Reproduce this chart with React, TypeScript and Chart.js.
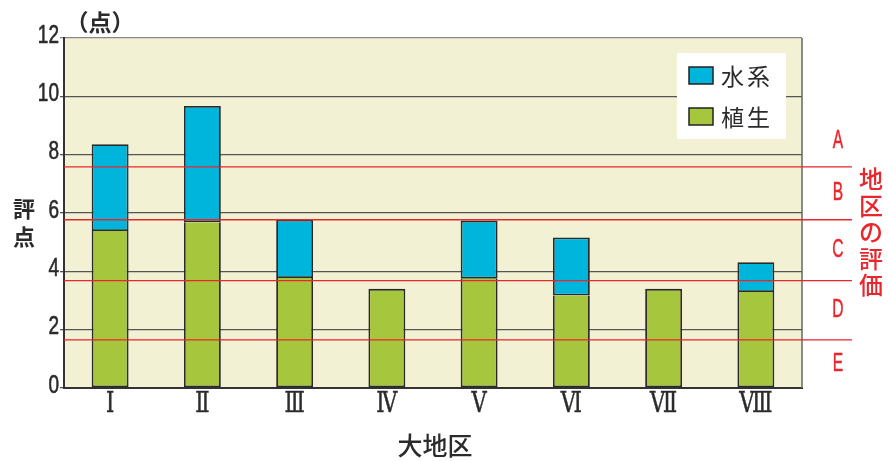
import React, { useEffect, useRef } from "react";
import { Chart, registerables } from "chart.js";

Chart.register(...registerables);

const categories = ["Ⅰ", "Ⅱ", "Ⅲ", "Ⅳ", "Ⅴ", "Ⅵ", "Ⅶ", "Ⅷ"];
const vegetation = [5.38, 5.68, 3.77, 3.4, 3.75, 3.17, 3.4, 3.29];
const water: (number | null)[] = [2.98, 3.99, 2.0, null, 1.99, 1.99, null, 1.02];
const seriesLabels = ["植生", "水系"];
const thresholds = [7.58, 5.77, 3.68, 1.65];
const grades = ["A", "B", "C", "D", "E"];
const yMin = 0;
const yMax = 12;
const yStep = 2;
const yUnit = "（点）";
const yTitle = "評点";
const xTitle = "大地区";
const sideTitle = "地区の評価";

const GREEN = "#a6c63d";
const CYAN = "#00b5dc";
const RED = "#e8262c";
const TEXT = "#2b2b2b";
const PLOT_BG = "#f3f1d4";

function condensedText(ctx: CanvasRenderingContext2D, text: string, x: number, y: number, sx: number, stroke = 0) {
  ctx.save();
  ctx.translate(x, y);
  ctx.scale(sx, 1);
  ctx.fillText(text, 0, 0);
  if (stroke > 0) {
    ctx.strokeStyle = ctx.fillStyle as string;
    ctx.lineWidth = stroke;
    ctx.strokeText(text, 0, 0);
  }
  ctx.restore();
}

const decorPlugin = {
  id: "decor",
  beforeDraw(chart: any) {
    const { ctx, chartArea } = chart;
    ctx.save();
    ctx.fillStyle = PLOT_BG;
    ctx.fillRect(chartArea.left, chartArea.top, chartArea.right - chartArea.left, chartArea.bottom - chartArea.top);
    ctx.restore();
  },
  afterDatasetsDraw(chart: any) {
    const { ctx, chartArea } = chart;
    const y = chart.scales.y;
    const x = chart.scales.x;
    ctx.save();
    // right border of plot
    ctx.strokeStyle = "#666";
    ctx.lineWidth = 1.5;
    ctx.beginPath();
    ctx.moveTo(chartArea.right, chartArea.top);
    ctx.lineTo(chartArea.right, chartArea.bottom);
    ctx.stroke();

    // threshold lines
    ctx.strokeStyle = RED;
    ctx.lineWidth = 1.4;
    const lineEnd = chartArea.right + 50;
    thresholds.forEach((t) => {
      const py = y.getPixelForValue(t);
      ctx.beginPath();
      ctx.moveTo(chartArea.left, py);
      ctx.lineTo(lineEnd, py);
      ctx.stroke();
    });

    // y tick labels (condensed)
    ctx.fillStyle = TEXT;
    ctx.font = '25px "Liberation Sans", sans-serif';
    ctx.textAlign = "right";
    ctx.textBaseline = "alphabetic";
    y.ticks.forEach((t: any) => {
      condensedText(ctx, String(t.value), chartArea.left - 5, y.getPixelForValue(t.value) + 4.5, 0.76, 0.6);
    });

    // x tick labels
    ctx.font = '27px "DejaVu Serif", serif';
    ctx.textAlign = "center";
    chart.data.labels.forEach((lab: string, i: number) => {
      condensedText(ctx, lab, x.getPixelForTick(i), chartArea.bottom + 24, 0.78, 0.5);
    });

    // grade letters
    ctx.fillStyle = RED;
    ctx.font = '26px "Liberation Sans", sans-serif';
    ctx.textAlign = "center";
    ctx.textBaseline = "middle";
    const bounds = [thresholds[0] + (thresholds[0] - thresholds[1]), ...thresholds, yMin];
    grades.forEach((g, i) => {
      const v = (bounds[i] + bounds[i + 1]) / 2;
      condensedText(ctx, g, chartArea.right + 36, y.getPixelForValue(v), 0.6, 0.5);
    });

    // side title (vertical)
    ctx.font = '500 24px "Noto Sans CJK JP", sans-serif';
    Array.from(sideTitle).forEach((c, i) => {
      ctx.fillText(c, 871, 179 + i * 26.5);
    });

    // y unit and title
    ctx.fillStyle = TEXT;
    ctx.font = 'bold 23px "Noto Sans CJK JP", sans-serif';
    ctx.fillText(yUnit, 100, 22);
    ctx.font = 'bold 22px "Noto Sans CJK JP", sans-serif';
    Array.from(yTitle).forEach((c, i) => {
      ctx.fillText(c, 24, 209 + i * 28);
    });

    // x title
    ctx.font = '500 25px "Noto Sans CJK JP", sans-serif';
    ctx.fillText(xTitle, 435, 445);

    // legend box
    const lx = 677, ly = 53, lw = 109, lh = 86;
    ctx.fillStyle = "#ffffff";
    ctx.fillRect(lx, ly, lw, lh);
    const items = [...chart.data.datasets].reverse();
    items.forEach((ds: any, i: number) => {
      const sy = 67 + i * 41;
      ctx.fillStyle = ds.backgroundColor;
      ctx.fillRect(689, sy, 24, 17);
      ctx.strokeStyle = "#222";
      ctx.lineWidth = 1.5;
      ctx.strokeRect(689, sy, 24, 17);
      ctx.fillStyle = TEXT;
      ctx.font = '23px "Noto Sans CJK JP", sans-serif';
      ctx.textAlign = "left";
      (ctx as any).letterSpacing = "3px";
      ctx.fillText(ds.label, 721, sy + 9);
      (ctx as any).letterSpacing = "0px";
    });
    ctx.restore();
  },
};

export default function App() {
  const ref = useRef<HTMLCanvasElement | null>(null);
  useEffect(() => {
    document.body.style.margin = "0";
    if (!ref.current) return;
    const chart = new Chart(ref.current, {
      type: "bar",
      data: {
        labels: categories,
        datasets: [
          {
            label: seriesLabels[0],
            data: vegetation,
            backgroundColor: GREEN,
            borderColor: "#2a2a2a",
            borderWidth: 1.8,
            borderSkipped: (c: any) => (water[c.dataIndex] != null ? "top" : false),
            barPercentage: 0.4,
            categoryPercentage: 1,
          },
          {
            label: seriesLabels[1],
            data: water,
            backgroundColor: CYAN,
            borderColor: "#2a2a2a",
            borderWidth: 1.8,
            borderSkipped: false,
            barPercentage: 0.4,
            categoryPercentage: 1,
          },
        ],
      },
      options: {
        responsive: false,
        animation: false,
        layout: { padding: { top: 38, right: 86, bottom: 0, left: 0 } },
        plugins: { legend: { display: false }, tooltip: { enabled: false }, title: { display: false } },
        scales: {
          x: {
            stacked: true,
            grid: { display: false },
            border: { display: true, color: "#333", width: 2 },
            ticks: { color: "rgba(0,0,0,0)", font: { family: '"DejaVu Serif", serif', size: 24 }, padding: 2 },
            afterFit: (s: any) => { s.height = 73; },
          },
          y: {
            stacked: true,
            min: yMin,
            max: yMax,
            ticks: {
              stepSize: yStep,
              color: "rgba(0,0,0,0)",
              padding: 3,
              font: { family: '"Liberation Sans", sans-serif', size: 24 },
            },
            grid: {
              color: (c: any) => (c.tick && c.tick.value === yMax ? "#888" : "#555"),
              lineWidth: 1.3,
              tickLength: 4,
            },
            border: { display: true, color: "#333", width: 2 },
            afterFit: (s: any) => { s.width = 64; },
          },
        },
      },
      plugins: [decorPlugin],
    } as any);
    return () => chart.destroy();
  }, []);
  return (
    <div style={{ position: "absolute", left: 0, top: 0, width: 888, height: 461 }}>
      <canvas ref={ref} width={888} height={461} style={{ width: 888, height: 461 }} />
    </div>
  );
}
